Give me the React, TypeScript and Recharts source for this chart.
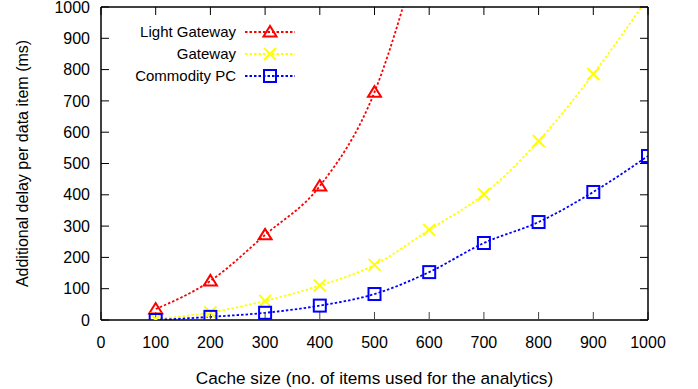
import { LineChart, Line, XAxis, YAxis, Legend } from 'recharts'

const cacheSizes = [100, 200, 300, 400, 500, 600, 700, 800, 900, 1000]
const lightGateway = [35, 125, 272, 428, 728, 1300, null, null, null, null]
const gateway = [3, 24, 61, 110, 176, 288, 402, 572, 786, 1030]
const commodityPc = [0, 10, 23, 46, 83, 153, 246, 313, 409, 524]
const xTicks = [0, 100, 200, 300, 400, 500, 600, 700, 800, 900, 1000]
const yTicks = [0, 100, 200, 300, 400, 500, 600, 700, 800, 900, 1000]

const RED = '#ff0000'
const YELLOW = '#ffff00'
const BLUE = '#0000ff'
const FONT = '"Liberation Sans", Arial, Helvetica, sans-serif'
const DASH = '2.5 2'

const data = cacheSizes.map((x, i) => ({
  x,
  light: lightGateway[i],
  gateway: gateway[i],
  pc: commodityPc[i],
}))

function Triangle({ cx, cy, color }: { cx: number; cy: number; color: string }) {
  return (
    <polygon
      points={`${cx},${cy - 6} ${cx - 6.5},${cy + 4.5} ${cx + 6.5},${cy + 4.5}`}
      fill="none"
      stroke={color}
      strokeWidth={2}
    />
  )
}

function Cross({ cx, cy, color }: { cx: number; cy: number; color: string }) {
  return (
    <path
      d={`M${cx - 6},${cy - 6}L${cx + 6},${cy + 6}M${cx - 6},${cy + 6}L${cx + 6},${cy - 6}`}
      stroke={color}
      strokeWidth={2}
      fill="none"
    />
  )
}

function Square({ cx, cy, color }: { cx: number; cy: number; color: string }) {
  return (
    <rect x={cx - 6} y={cy - 6} width={12} height={12} fill="none" stroke={color} strokeWidth={2} />
  )
}

// eslint-disable-next-line @typescript-eslint/no-explicit-any
const dotOf = (Shape: any, color: string) => (props: any) => {
  const { cx, cy, index, value } = props
  if (cx == null || cy == null || value == null) return <g key={index} />
  return <Shape key={index} cx={cx} cy={cy} color={color} />
}

// no label on the frame axes, only the inward tick marks
const noLabel = () => <g />

const legendRows = [
  { name: 'Light Gateway', color: RED, Shape: Triangle },
  { name: 'Gateway', color: YELLOW, Shape: Cross },
  { name: 'Commodity PC', color: BLUE, Shape: Square },
]

function KeyBox() {
  return (
    <svg width={300} height={90} style={{ display: 'block' }}>
      {legendRows.map((r, i) => {
        const y = 32 + i * 22
        return (
          <g key={r.name}>
            <text x={236} y={y + 5} textAnchor="end" fontFamily={FONT} fontSize={15} fill="#000">
              {r.name}
            </text>
            <line x1={245} x2={295} y1={y} y2={y} stroke={r.color} strokeWidth={1.8} strokeDasharray={DASH} />
            <r.Shape cx={270} cy={y} color={r.color} />
          </g>
        )
      })}
    </svg>
  )
}

const tickStyle = { fill: '#000', fontSize: 16, fontFamily: FONT }

export default function App() {
  return (
    <div style={{ position: 'fixed', left: 0, top: 0, background: '#fff' }}>
      <LineChart width={698} height={389} data={data} margin={{ top: 7, right: 50, left: 0, bottom: 0 }}>
        <XAxis
          xAxisId="x"
          dataKey="x"
          type="number"
          domain={[0, 1000]}
          ticks={xTicks}
          interval={0}
          allowDataOverflow
          height={69}
          tickLine={false}
          tickMargin={11}
          tick={tickStyle}
          axisLine={{ stroke: '#000', strokeWidth: 1.5 }}
          label={{
            value: 'Cache size (no. of items used for the analytics)',
            position: 'insideBottom',
            offset: 5,
            style: { fill: '#000', fontSize: 17.2, fontFamily: FONT },
          }}
        />
        <XAxis
          xAxisId="xb"
          dataKey="x"
          type="number"
          domain={[0, 1000]}
          ticks={xTicks}
          interval={0}
          allowDataOverflow
          mirror
          height={1}
          tick={noLabel}
          tickSize={8}
          tickLine={{ stroke: '#444' }}
          axisLine={false}
        />
        <XAxis
          xAxisId="xt"
          dataKey="x"
          orientation="top"
          type="number"
          domain={[0, 1000]}
          ticks={xTicks}
          interval={0}
          allowDataOverflow
          mirror
          height={1}
          tick={noLabel}
          tickSize={8}
          tickLine={{ stroke: '#000' }}
          axisLine={{ stroke: '#000', strokeWidth: 1.5 }}
        />
        <YAxis
          yAxisId="y"
          type="number"
          domain={[0, 1000]}
          ticks={yTicks}
          interval={0}
          allowDataOverflow
          width={101}
          tickLine={false}
          tickMargin={5}
          tick={tickStyle}
          axisLine={{ stroke: '#000', strokeWidth: 1.5 }}
          label={{
            value: 'Additional delay per data item (ms)',
            angle: -90,
            position: 'insideLeft',
            offset: 22,
            style: { fill: '#000', fontSize: 16, fontFamily: FONT, textAnchor: 'middle' },
          }}
        />
        <YAxis
          yAxisId="yl"
          type="number"
          domain={[0, 1000]}
          ticks={yTicks}
          interval={0}
          allowDataOverflow
          mirror
          width={1}
          tick={noLabel}
          tickSize={8}
          tickLine={{ stroke: '#000' }}
          axisLine={false}
        />
        <YAxis
          yAxisId="yr"
          orientation="right"
          type="number"
          domain={[0, 1000]}
          ticks={yTicks}
          interval={0}
          allowDataOverflow
          mirror
          width={1}
          tick={noLabel}
          tickSize={8}
          tickLine={{ stroke: '#000' }}
          axisLine={{ stroke: '#000', strokeWidth: 1.5 }}
        />
        <Legend
          layout="horizontal"
          verticalAlign="middle"
          align="center"
          content={() => <KeyBox />}
          wrapperStyle={{ left: 0, top: 0, width: 300, height: 90 }}
        />
        {/* invisible series so the frame axes get a scale */}
        <Line
          xAxisId="xb"
          yAxisId="yl"
          dataKey="pc"
          stroke="none"
          dot={false}
          activeDot={false}
          legendType="none"
          isAnimationActive={false}
        />
        <Line
          xAxisId="xt"
          yAxisId="yr"
          dataKey="pc"
          stroke="none"
          dot={false}
          activeDot={false}
          legendType="none"
          isAnimationActive={false}
        />
        <Line
          xAxisId="x"
          yAxisId="y"
          type="monotone"
          dataKey="light"
          name="Light Gateway"
          stroke={RED}
          strokeWidth={1.8}
          strokeDasharray={DASH}
          dot={dotOf(Triangle, RED)}
          connectNulls={false}
          isAnimationActive={false}
        />
        <Line
          xAxisId="x"
          yAxisId="y"
          type="monotone"
          dataKey="gateway"
          name="Gateway"
          stroke={YELLOW}
          strokeWidth={1.8}
          strokeDasharray={DASH}
          dot={dotOf(Cross, YELLOW)}
          isAnimationActive={false}
        />
        <Line
          xAxisId="x"
          yAxisId="y"
          type="monotone"
          dataKey="pc"
          name="Commodity PC"
          stroke={BLUE}
          strokeWidth={1.8}
          strokeDasharray={DASH}
          dot={dotOf(Square, BLUE)}
          isAnimationActive={false}
        />
      </LineChart>
    </div>
  )
}
